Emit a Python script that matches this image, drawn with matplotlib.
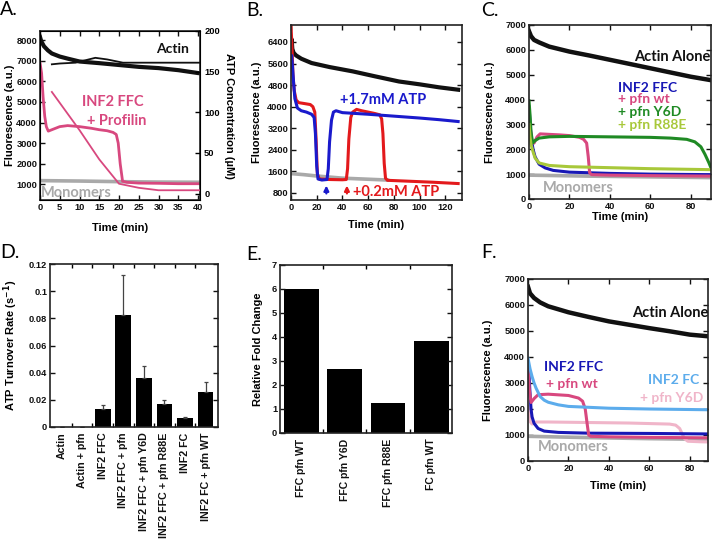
import matplotlib
matplotlib.use("Agg")
import matplotlib.pyplot as plt

plt.rcParams['font.family'] = ['Liberation Sans', 'DejaVu Sans']
plt.rcParams['font.weight'] = 'bold'
plt.rcParams['axes.labelweight'] = 'bold'

W, H = 713, 540

# ---------------- data ----------------
# A: INF2 FFC + profilin, fluorescence (left) and ATP concentration (right)
a_time_actin = [0, 0.3, 1, 2, 3, 5, 7, 10, 15, 20, 25, 30, 35, 40, 41]
a_fl_actin = [8150, 7950, 7700, 7500, 7350, 7200, 7100, 6960, 6880, 6790, 6700, 6640, 6540, 6400, 6380]
a_time_prof = [0, 0.4, 0.8, 1.2, 1.6, 2.1, 3, 5, 7, 10, 13, 15, 17, 18.5, 19.3, 19.8, 20.3, 20.9, 22, 25, 30, 35, 41]
a_fl_prof = [6900, 6400, 5200, 4300, 3800, 3580, 3650, 3800, 3850, 3800, 3720, 3650, 3600, 3520, 3420, 3000, 2000, 1150, 1100, 1060, 1050, 1030, 1030]
a_time_mono = [0, 10, 20, 30, 41]
a_fl_mono = [1180, 1160, 1130, 1110, 1100]
a_time_atp_actin = [3, 5, 9, 14, 17, 21, 30, 41]
a_atp_actin = [159, 160, 161, 167, 165, 161, 161, 161]
a_time_atp_prof = [3, 10, 15, 20, 25, 30, 41]
a_atp_prof = [125, 78, 42, 12, 7, 4, 4]

# B: ATP re-addition
b_time_actin = [0, 0.5, 1, 2, 4, 8, 16, 30, 48, 65, 84, 100, 115, 130]
b_fl_actin = [6300, 6500, 6150, 6000, 5900, 5780, 5620, 5470, 5310, 5130, 4935, 4830, 4720, 4630]
b_time_red = [0, 0.7, 1.5, 2.5, 4, 6, 10, 15, 17, 18.5, 19.5, 20.5, 22, 30, 40, 43, 44, 45, 46.5, 48,
              51, 55, 60, 65, 69, 70.5, 71.5, 72.5, 73.5, 75, 90, 110, 130]
b_fl_red = [7000, 6300, 5200, 4600, 4250, 4150, 4120, 4080, 4000, 3800, 2800, 1500, 1320, 1300, 1290, 1300,
            1700, 2800, 3600, 3800, 3900, 3850, 3800, 3750, 3700, 3550, 3000, 1900, 1350, 1270, 1240, 1200, 1150]
b_time_blue = [0, 0.5, 1, 2, 3, 5, 8, 12, 16, 18, 19, 20, 21, 24, 28, 29, 30, 31.5, 33, 35, 40, 60, 80, 100, 115, 130]
b_fl_blue = [5700, 5900, 5600, 4900, 4300, 3950, 3850, 3800, 3720, 3600, 3000, 1800, 1320, 1280, 1300, 1700,
             2700, 3500, 3800, 3850, 3780, 3720, 3650, 3580, 3520, 3450]
b_time_mono = [0, 10, 20, 30, 40, 50, 60, 75]
b_fl_mono = [1520, 1480, 1430, 1390, 1350, 1330, 1310, 1280]
b_arrow_times = [27.5, 43.5]

# C: profilin mutants with INF2 FFC
c_time_actin = [0, 1, 2.5, 5, 10, 20, 30, 40, 50, 60, 70, 80, 90]
c_fl_actin = [6750, 6550, 6400, 6300, 6130, 5930, 5770, 5600, 5430, 5260, 5090, 4920, 4780]
c_time_ffc = [0, 0.5, 1, 2, 3, 5, 8, 12, 20, 40, 60, 90]
c_fl_ffc = [3700, 3100, 2500, 2000, 1700, 1400, 1250, 1150, 1080, 1030, 1000, 980]
c_time_wt = [0, 0.7, 1.5, 2.5, 4, 5.5, 10, 15, 20, 25, 27, 28.5, 29.3, 30, 31, 40, 60, 90]
c_fl_wt = [3500, 2800, 2300, 2250, 2500, 2620, 2600, 2580, 2550, 2480, 2400, 2250, 1700, 1050, 980, 960, 940, 920]
c_time_y6d = [0, 0.5, 1, 1.8, 3, 5, 10, 20, 40, 60, 70, 78, 82, 85, 87, 89, 90]
c_fl_y6d = [3950, 3400, 2700, 2250, 2350, 2450, 2500, 2520, 2500, 2480, 2450, 2400, 2300, 2100, 1800, 1450, 1250]
c_time_r88e = [0, 0.5, 1, 2, 3, 5, 10, 20, 40, 60, 90]
c_fl_r88e = [3000, 2500, 2200, 1900, 1650, 1450, 1350, 1300, 1260, 1220, 1180]
c_time_mono = [0, 30, 60, 90]
c_fl_mono = [960, 920, 890, 860]

# D: ATP turnover rates
d_labels = ["Actin", "Actin + pfn", "INF2 FFC", "INF2 FFC + pfn", "INF2 FFC + pfn Y6D",
            "INF2 FFC + pfn R88E", "INF2 FC", "INF2 FC + pfn WT"]
d_rate = [0.0, 0.0003, 0.0134, 0.0822, 0.0361, 0.0171, 0.0063, 0.0256]
d_err = [0, 0, 0.003, 0.0295, 0.0085, 0.0029, 0.0008, 0.0076]

# E: relative fold change
e_labels = ["FFC pfn WT", "FFC pfn Y6D", "FFC pfn R88E", "FC pfn WT"]
e_fold = [6.0, 2.66, 1.25, 3.84]

# F: INF2 FC vs FFC
f_time_actin = [0, 1, 3, 6, 10, 20, 30, 40, 50, 60, 70, 80, 90]
f_fl_actin = [6700, 6450, 6270, 6100, 5950, 5720, 5540, 5370, 5240, 5110, 4990, 4860, 4790]
f_time_ffc = [0, 0.5, 1, 1.5, 2, 3, 5, 8, 15, 30, 60, 90]
f_fl_ffc = [3800, 3300, 2600, 2000, 1700, 1450, 1250, 1150, 1100, 1070, 1060, 1040]
f_time_wt = [0, 0.7, 1.5, 3, 5, 10, 20, 25, 27, 28.3, 29.3, 30, 31, 40, 60, 90]
f_fl_wt = [3600, 2700, 2250, 2400, 2550, 2570, 2520, 2420, 2300, 2000, 1400, 1000, 950, 930, 910, 890]
f_time_fc = [0, 1, 2, 3, 4, 6, 8, 10, 15, 20, 40, 60, 90]
f_fl_fc = [3950, 3550, 3250, 3000, 2800, 2480, 2340, 2260, 2160, 2100, 2030, 2000, 1970]
f_time_y6d = [0, 0.5, 1.2, 2, 4, 10, 30, 50, 70, 73, 75, 76.5, 77.5, 79, 85, 90]
f_fl_y6d = [2100, 1800, 1500, 1420, 1500, 1500, 1480, 1460, 1420, 1380, 1250, 1000, 850, 760, 740, 730]
f_time_mono = [0, 30, 60, 90]
f_fl_mono = [950, 900, 860, 830]

# colours
BLACK = '#111111'
GRAY = '#a9a9a9'
PINK = '#d8487f'
RED = '#e3191c'
BLUE = '#1a1acc'
DBLUE = '#1717b5'
GREEN = '#1f8a24'
YGREEN = '#a8c83a'
LBLUE = '#5cacec'
LPINK = '#f0b5c9'

ANNOT = ['Lato', 'DejaVu Sans']
TICK = 6.7


def add_ax(l, t, r, b):
    return fig.add_axes([l / W, 1 - b / H, (r - l) / W, (b - t) / H])


def frame(ax, right=True, top=True):
    for s in ax.spines.values():
        s.set_linewidth(1.2)
        s.set_color('#222222')
    ax.tick_params(direction='in', length=3.5, width=1, top=top, right=right,
                   labelsize=TICK, pad=2, colors='#111111')


def annot(ax, x, y, s, color, size=10, ha='left'):
    ax.text(x, y, s, color=color, fontsize=size, fontweight='bold', family=ANNOT,
            ha=ha, va='center')


def letter(x, y, s):
    fig.text(x / W, 1 - y / H, s, fontsize=14, fontweight='normal', family=ANNOT,
             ha='left', va='top')


fig = plt.figure(figsize=(W / 100, H / 100), dpi=100)

# ---------------- A ----------------
ax = add_ax(40, 31, 200, 200)
ax.plot(a_time_mono, a_fl_mono, color=GRAY, lw=2.6)
ax.plot(a_time_actin, a_fl_actin, color=BLACK, lw=3.0)
ax.plot(a_time_prof, a_fl_prof, color=PINK, lw=2.0)
ax.set_xlim(0, 40.5)
ax.set_ylim(240, 8440)
ax.set_xticks(range(0, 41, 5))
ax.set_yticks(range(1000, 8001, 1000))
frame(ax, right=False)
ax.set_xlabel('Time (min)', fontsize=8, labelpad=8)
ax.set_ylabel('Fluorescence (a.u.)', fontsize=8)
ax.yaxis.set_label_coords(-25 / 160, 0.5)
annot(ax, 29.5, 7550, 'Actin', BLACK, size=10)
annot(ax, 18.5, 5000, 'INF2 FFC', PINK, size=10.5, ha='center')
annot(ax, 19.5, 4050, '+ Profilin', PINK, size=10.5, ha='center')
annot(ax, 0.3, 560, 'Monomers', GRAY, size=10.5)
ax2 = ax.twinx()
ax2.plot(a_time_atp_actin, a_atp_actin, color=BLACK, lw=1.3)
ax2.plot(a_time_atp_prof, a_atp_prof, color=PINK, lw=1.3)
ax2.set_ylim(-8, 200)
ax2.set_yticks(range(0, 201, 50))
ax2.tick_params(direction='in', length=3.5, width=1, labelsize=TICK, pad=3)
ax2.set_ylabel('ATP Concentration (\u00b5M)', fontsize=8, rotation=270)
ax2.yaxis.set_label_coords(1 + 34 / 160, 0.5)

# ---------------- B ----------------
ax = add_ax(291, 25, 462, 200)
ax.plot(b_time_mono, b_fl_mono, color=GRAY, lw=2.6)
ax.plot(b_time_actin, b_fl_actin, color=BLACK, lw=3.0)
ax.plot(b_time_red, b_fl_red, color=RED, lw=2.2)
ax.plot(b_time_blue, b_fl_blue, color=BLUE, lw=2.2)
ax.set_xlim(0, 133)
ax.set_ylim(540, 7030)
ax.set_xticks(range(0, 121, 20))
ax.set_yticks(range(800, 6401, 800))
frame(ax)
ax.set_xlabel('Time (min)', fontsize=8, labelpad=6)
ax.set_ylabel('Fluorescence (a.u.)', fontsize=8)
ax.yaxis.set_label_coords(-29 / 171, 0.5)
for t, c in zip(b_arrow_times, [BLUE, RED]):
    ax.annotate('', xy=(t, 1180), xytext=(t, 680),
                arrowprops=dict(arrowstyle='-|>', color=c, lw=1.6, mutation_scale=7))
annot(ax, 38, 4250, '+1.7mM ATP', BLUE, size=10.5)
annot(ax, 48, 820, '+0.2mM ATP', RED, size=10.5)

# ---------------- C ----------------
ax = add_ax(529, 25, 711, 199)
ax.plot(c_time_mono, c_fl_mono, color=GRAY, lw=2.6)
ax.plot(c_time_actin, c_fl_actin, color=BLACK, lw=3.2)
ax.plot(c_time_ffc, c_fl_ffc, color=DBLUE, lw=2.2)
ax.plot(c_time_wt, c_fl_wt, color=PINK, lw=2.2)
ax.plot(c_time_y6d, c_fl_y6d, color=GREEN, lw=2.2)
ax.plot(c_time_r88e, c_fl_r88e, color=YGREEN, lw=2.2)
ax.set_xlim(0, 90)
ax.set_ylim(0, 7000)
ax.set_xticks(range(0, 81, 20))
ax.set_yticks(range(0, 7001, 1000))
frame(ax)
ax.set_xlabel('Time (min)', fontsize=8, labelpad=1)
ax.set_ylabel('Fluorescence (a.u.)', fontsize=8)
ax.yaxis.set_label_coords(-34 / 182, 0.5)
annot(ax, 89.5, 5720, 'Actin Alone', BLACK, size=10.5, ha='right')
annot(ax, 44, 4480, 'INF2 FFC', DBLUE, size=10)
annot(ax, 44, 4010, '+ pfn wt', PINK, size=10)
annot(ax, 44, 3490, '+ pfn Y6D', GREEN, size=10)
annot(ax, 44, 2980, '+ pfn R88E', YGREEN, size=10)
annot(ax, 7, 450, 'Monomers', GRAY, size=10.5)

# ---------------- D ----------------
ax = add_ax(50, 264, 218, 427)
xd = range(len(d_rate))
ax.bar(xd, d_rate, width=0.76, color='black')
ax.errorbar(xd, d_rate, yerr=[[0] * len(d_err), d_err], fmt='none', ecolor='#444444',
            elinewidth=0.9, capsize=1.5, capthick=0.9)
ax.set_xlim(-0.56, 7.6)
ax.set_ylim(0, 0.12)
ax.set_yticks([0, 0.02, 0.04, 0.06, 0.08, 0.1, 0.12])
ax.set_yticklabels(['0', '0.02', '0.04', '0.06', '0.08', '0.1', '0.12'])
ax.set_xticks(list(xd))
ax.set_xticklabels(d_labels, rotation=90)
ax.set_xticks([i + 0.5 for i in range(len(d_rate) - 1)], minor=True)
frame(ax)
ax.tick_params(axis='x', which='major', length=0, pad=4, labelsize=7.7)
ax.tick_params(axis='x', which='minor', direction='in', length=3, width=1, top=True)
ax.set_ylabel('ATP Turnover Rate (s$^{\\mathbf{-1}}$)', fontsize=8)
ax.yaxis.set_label_coords(-30 / 168, 0.5)

# ---------------- E ----------------
ax = add_ax(280, 265, 452, 433)
xe = range(len(e_fold))
ax.bar(xe, e_fold, width=0.8, color='black')
ax.set_xlim(-0.49, 3.48)
ax.set_ylim(0, 7)
ax.set_yticks(range(0, 8))
ax.set_xticks(list(xe))
ax.set_xticklabels(e_labels, rotation=90)
ax.set_xticks([i + 0.5 for i in range(len(e_fold) - 1)], minor=True)
frame(ax)
ax.tick_params(axis='x', which='major', length=0, pad=4, labelsize=7.5)
ax.tick_params(axis='x', which='minor', direction='in', length=3, width=1, top=True)
ax.set_ylabel('Relative Fold Change', fontsize=8)
ax.yaxis.set_label_coords(-17 / 172, 0.5)

# ---------------- F ----------------
ax = add_ax(528, 279, 708, 461)
ax.plot(f_time_mono, f_fl_mono, color=GRAY, lw=2.6)
ax.plot(f_time_actin, f_fl_actin, color=BLACK, lw=3.2)
ax.plot(f_time_y6d, f_fl_y6d, color=LPINK, lw=2.2)
ax.plot(f_time_ffc, f_fl_ffc, color=DBLUE, lw=2.2)
ax.plot(f_time_wt, f_fl_wt, color=PINK, lw=2.2)
ax.plot(f_time_fc, f_fl_fc, color=LBLUE, lw=2.2)
ax.set_xlim(0, 89)
ax.set_ylim(0, 7000)
ax.set_xticks(range(0, 81, 20))
ax.set_yticks(range(0, 7001, 1000))
frame(ax)
ax.set_xlabel('Time (min)', fontsize=8, labelpad=6)
ax.set_ylabel('Fluorescence (a.u.)', fontsize=8)
ax.yaxis.set_label_coords(-35 / 180, 0.5)
annot(ax, 89, 5680, 'Actin Alone', BLACK, size=10.5, ha='right')
annot(ax, 8, 3630, 'INF2 FFC', DBLUE, size=10)
annot(ax, 9, 2950, '+ pfn wt', PINK, size=10)
annot(ax, 59.5, 3120, 'INF2 FC', LBLUE, size=10)
annot(ax, 55.5, 2410, '+ pfn Y6D', LPINK, size=10)
annot(ax, 5, 550, 'Monomers', GRAY, size=10.5)

# panel letters
letter(0, 1, 'A.')
letter(246, 2, 'B.')
letter(481, 2, 'C.')
letter(0, 244, 'D.')
letter(246, 246, 'E.')
letter(481, 244, 'F.')

fig.savefig('out.png', dpi=100)
